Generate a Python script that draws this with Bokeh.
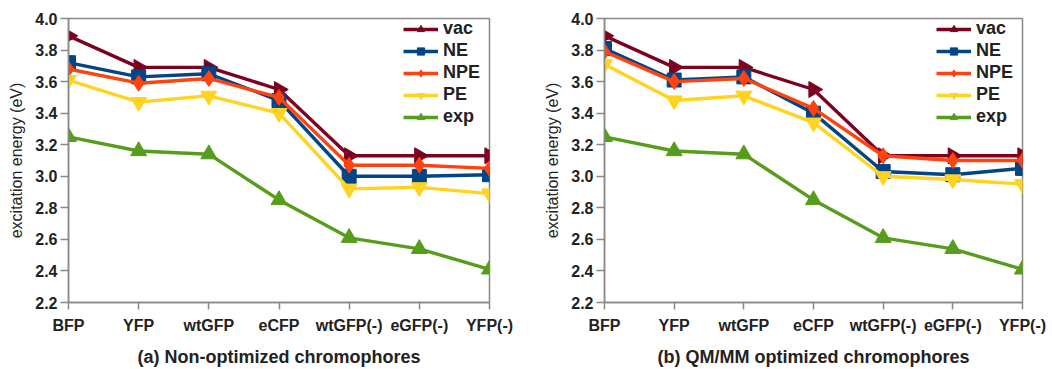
import math
from bokeh.plotting import figure
from bokeh.layouts import row
from bokeh.models import Legend, LegendItem, FixedTicker, Range1d
from bokeh.embed import file_html
from bokeh.resources import INLINE

categories = ["BFP", "YFP", "wtGFP", "eCFP", "wtGFP(-)", "eGFP(-)", "YFP(-)"]
series_names = ["vac", "NE", "NPE", "PE", "exp"]

# (a) Non-optimized chromophores
a_vac = [3.89, 3.69, 3.69, 3.55, 3.13, 3.13, 3.13]
a_ne = [3.72, 3.63, 3.65, 3.48, 3.00, 3.00, 3.01]
a_npe = [3.68, 3.59, 3.62, 3.50, 3.07, 3.07, 3.05]
a_pe = [3.61, 3.47, 3.51, 3.40, 2.92, 2.93, 2.89]
a_exp = [3.25, 3.16, 3.14, 2.85, 2.61, 2.54, 2.41]

# (b) QM/MM optimized chromophores
b_vac = [3.89, 3.69, 3.69, 3.55, 3.13, 3.13, 3.13]
b_ne = [3.81, 3.61, 3.63, 3.40, 3.03, 3.01, 3.05]
b_npe = [3.79, 3.60, 3.62, 3.43, 3.13, 3.10, 3.10]
b_pe = [3.71, 3.48, 3.51, 3.34, 3.00, 2.98, 2.95]
b_exp = [3.25, 3.16, 3.14, 2.85, 2.61, 2.54, 2.41]

y_ticks = [2.2, 2.4, 2.6, 2.8, 3.0, 3.2, 3.4, 3.6, 3.8, 4.0]

colors = {"vac": "#7E0021", "NE": "#004586", "NPE": "#FF420E", "PE": "#FFD320", "exp": "#579D1C"}
markers = {"vac": "triangle", "NE": "square", "NPE": "diamond", "PE": "inverted_triangle", "exp": "triangle"}
angles = {"vac": -math.pi / 2, "NE": 0, "NPE": 0, "PE": 0, "exp": 0}
sizes = {"vac": 16, "NE": 14, "NPE": 16, "PE": 16, "exp": 16}

FONT = "Liberation Sans"


def make_plot(data, title, width, bl, br):
    p = figure(width=width, height=369, output_backend="svg", toolbar_location=None,
               x_range=Range1d(0, len(categories) - 1), y_range=Range1d(2.2, 4.0),
               min_border_left=bl, min_border_right=br, min_border_top=18, min_border_bottom=63)
    p.xgrid.visible = False
    p.ygrid.visible = False
    p.outline_line_color = "#888888"
    p.outline_line_width = 1.5
    p.background_fill_color = "white"
    p.border_fill_color = "white"

    xs = list(range(len(categories)))
    items = {}
    for name in series_names:
        vals = data[name]
        l = p.line(xs, vals, line_color=colors[name], line_width=3.4)
        s = p.scatter(xs, vals, marker=markers[name], size=sizes[name], angle=angles[name],
                      fill_color=colors[name], line_color=colors[name])
        items[name] = LegendItem(label=name, renderers=[l, s])

    legend = Legend(items=[items[n] for n in series_names], location="top_right",
                    border_line_color=None, background_fill_alpha=0,
                    label_text_font=FONT, label_text_font_style="bold",
                    label_text_font_size="18px", label_text_color="#222222",
                    glyph_width=35, glyph_height=18, spacing=1, label_standoff=5,
                    padding=2, margin=0, label_height=18, label_width=46)
    p.add_layout(legend)

    p.xaxis.ticker = FixedTicker(ticks=xs)
    p.xaxis.major_label_overrides = {i: c for i, c in enumerate(categories)}
    p.xaxis.minor_tick_line_color = None
    p.xaxis.major_tick_in = 0
    p.xaxis.major_tick_out = 7
    p.xaxis.axis_label = title
    p.xaxis.axis_label_text_font = FONT
    p.xaxis.axis_label_text_font_style = "bold"
    p.xaxis.axis_label_text_font_size = "18px"
    p.xaxis.axis_label_text_color = "#222222"
    p.xaxis.axis_label_standoff = 10
    p.xaxis.major_label_standoff = 7

    p.yaxis.ticker = FixedTicker(ticks=y_ticks)
    p.yaxis.major_label_overrides = {t: f"{t:.1f}" for t in y_ticks}
    p.yaxis.minor_tick_line_color = None
    p.yaxis.major_tick_in = 0
    p.yaxis.major_tick_out = 8
    p.yaxis.axis_label = "excitation energy (eV)"
    p.yaxis.axis_label_text_font = FONT
    p.yaxis.axis_label_text_font_style = "normal"
    p.yaxis.axis_label_text_font_size = "16px"
    p.yaxis.axis_label_text_color = "#222222"
    p.yaxis.axis_label_standoff = 7
    p.yaxis.major_label_standoff = 3

    for ax in (p.xaxis, p.yaxis):
        ax.axis_line_color = "#888888"
        ax.axis_line_width = 1.5
        ax.major_tick_line_color = "#888888"
        ax.major_tick_line_width = 1.5
        ax.major_label_text_font = FONT
        ax.major_label_text_font_style = "bold"
        ax.major_label_text_font_size = "16px"
        ax.major_label_text_color = "#222222"
    return p


pa = make_plot({"vac": a_vac, "NE": a_ne, "NPE": a_npe, "PE": a_pe, "exp": a_exp},
               "(a) Non-optimized chromophores", 526, 68, 37)
pb = make_plot({"vac": b_vac, "NE": b_ne, "NPE": b_npe, "PE": b_pe, "exp": b_exp},
               "(b) QM/MM optimized chromophores", 526, 78, 30)

layout = row(pa, pb, spacing=0)
open("out.html", "w").write(file_html(layout, INLINE))
